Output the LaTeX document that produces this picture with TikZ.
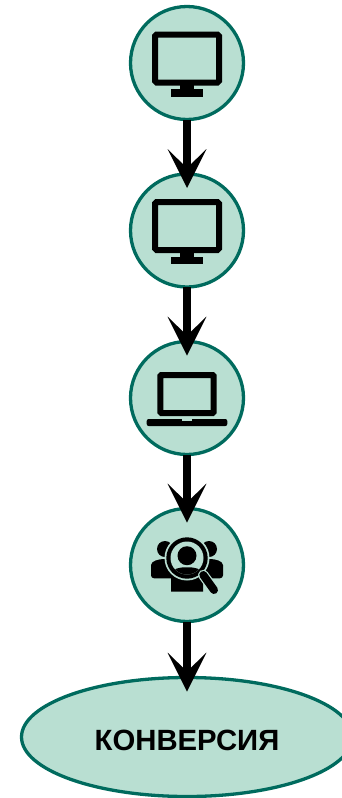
\documentclass[tikz,border=0pt]{standalone}
\usepackage{fontspec}
\usepackage{xcolor}
\usetikzlibrary{shapes.geometric, arrows.meta}
\newfontfamily\convfont{Liberation Sans Bold}
\definecolor{nodefill}{HTML}{B9DFD2}
\definecolor{nodeline}{HTML}{006B5E}

\begin{document}
\begin{tikzpicture}[
    x=1pt, y=-1pt,
    step_node/.style={circle, draw=nodeline, fill=nodefill, line width=3.3pt, minimum size=113pt, inner sep=0pt, outer sep=0pt},
    goal_node/.style={ellipse, draw=nodeline, fill=nodefill, line width=3.3pt, minimum width=331pt, minimum height=119pt, inner sep=0pt, outer sep=0pt, text height=27.4pt, text depth=0pt, font=\convfont\fontsize{29.3}{29.3}\selectfont},
    flow_line/.style={line width=8pt, draw=black, shorten >=-14pt, -{Stealth[length=39pt, width=39pt, inset=19pt, line width=0pt]}},
    monitor_icon/.pic={
        \draw [black, line width=6pt, rounded corners=1.5pt] (-32, -28.5) rectangle (32, 19.5);
        \fill [black] (-7, 20) rectangle (7, 27);
        \fill [black] (-16, 26.3) rectangle (16, 33.7);
    },
    laptop_icon/.pic={
        \draw [black, line width=6pt, rounded corners=1pt] (-26.7, -23) rectangle (26.7, 15);
        \fill [black, rounded corners=2pt] (-40.3, 21) -- (40.3, 21) -- (40.3, 28) -- (-40.3, 28) -- cycle;
        \fill [nodefill] (-4.7, 20.8) rectangle (4.7, 23);
    },
    people_icon/.pic={
        % Side persons
        \fill [black] (-22, -16) circle (8);
        \fill [black] (22, -16) circle (8);
        \fill [black, rounded corners=3pt] (-36, 13.3) -- (-36, 3) .. controls (-36, -4) and (-28, -6) .. (-20, -6) -- (-10, 13.3) -- cycle;
        \fill [black, rounded corners=3pt] (36, 13.3) -- (36, 3) .. controls (36, -4) and (28, -6) .. (20, -6) -- (10, 13.3) -- cycle;
        % Centre person below the lens
        \fill [black] (-16, 26.7) -- (-16, 12) -- (16, 2) -- (16, 26.7) -- cycle;
        % Lens
        \fill [nodefill] (0, -7) circle (22.5);
        \fill [black] (0, -7) circle (20.7);
        \fill [nodefill] (0, -7) circle (16.5);
        \fill [black] (0, -9.3) circle (9.5);
        \begin{scope}
            \clip (0, -7) circle (16.5);
            \fill [black] (-16, 10) .. controls (-14, 3) and (-8, 2.3) .. (0, 2.3) .. controls (8, 2.3) and (14, 3) .. (16, 10) -- cycle;
        \end{scope}
        % Handle
        \draw [nodefill, line width=10.5pt, line cap=round] (16.3, 10) -- (27, 25);
        \draw [black, line width=8pt, line cap=round] (16.3, 10) -- (27, 25);
    }
]
    \useasboundingbox (0, 0) rectangle (341, 798);

    % Steps
    \node (screen1) [step_node] at (187, 63) {};
    \node (screen2) [step_node] at (187, 230.5) {};
    \node (laptop) [step_node] at (187, 398) {};
    \node (audience) [step_node] at (187, 565) {};
    \node (conversion) [goal_node] at (187, 737) {КОНВЕРСИЯ};

    % Icons
    \pic at (screen1) {monitor_icon};
    \pic at (screen2) {monitor_icon};
    \pic at (laptop) {laptop_icon};
    \pic at (audience) {people_icon};

    % Connectors
    \draw [flow_line] (screen1.south) -- (screen2.north);
    \draw [flow_line] (screen2.south) -- (laptop.north);
    \draw [flow_line] (laptop.south) -- (audience.north);
    \draw [flow_line] (audience.south) -- (conversion.north);
\end{tikzpicture}
\end{document}
